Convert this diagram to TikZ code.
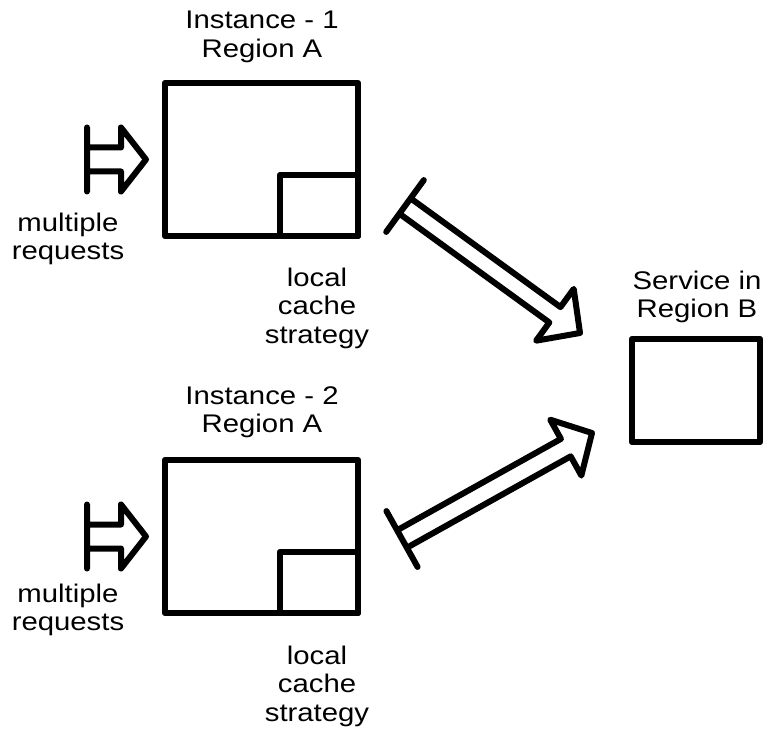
\documentclass[tikz,border=0pt]{standalone}
\usepackage{fontspec}
\setmainfont{Liberation Sans}[FakeStretch=1.15]
\usetikzlibrary{calc}

\begin{document}
\begin{tikzpicture}[
    x=1pt,
    y=-1pt,
    box/.style={draw, line width=6.5pt, line join=round, inner sep=0pt, outer sep=0pt},
    lbl/.style={align=center, inner sep=0pt, font=\fontsize{25.5pt}{28.5pt}\selectfont},
    arrow line/.style={line width=6pt, line join=round, line cap=round},
    pics/hollow arrow/.style n args={3}{code={
        \draw[arrow line] (0,-32) -- (0,32)
            (0,#2) -- (#1-#3,#2) -- (#1-#3,32) -- (#1,0) -- (#1-#3,-32) -- (#1-#3,-#2) -- (0,-#2);
    }}
]

\useasboundingbox (0,0) rectangle (769,738);

% 1. Instances in Region A (with local cache corner)
\node[box, minimum width=193pt, minimum height=153pt] (inst1) at (261.5,159.5) {};
\node[box, minimum width=78pt, minimum height=61pt, anchor=south east] (cache1) at (inst1.south east) {};
\node[box, minimum width=193pt, minimum height=153pt] (inst2) at (261.5,536.5) {};
\node[box, minimum width=78pt, minimum height=61pt, anchor=south east] (cache2) at (inst2.south east) {};

% 2. Remote service
\node[box, minimum width=128pt, minimum height=103pt] (svc) at (696,390.5) {};

% 3. Labels
\node[lbl] (inst1lbl) at (262,37) {Instance - 1\\Region A};
\node[lbl] (inst2lbl) at (262,412) {Instance - 2\\Region A};
\node[lbl] (svclbl) at (697,297) {Service in\\Region B};
\node[lbl] (req1) at (68,239) {multiple\\requests};
\node[lbl] (req2) at (68,610) {multiple\\requests};
\node[lbl] (strat1) at (317,308) {local\\cache\\strategy};
\node[lbl] (strat2) at (317,686) {local\\cache\\strategy};

% 4. Arrow end points
\coordinate (in1) at ([xshift=-78pt]inst1.west);
\coordinate (tip1) at ([xshift=-19pt]inst1.west);
\coordinate (in2) at ([xshift=-78pt]inst2.west);
\coordinate (tip2) at ([xshift=-19pt]inst2.west);
\coordinate (out1) at (405,206);
\coordinate (end1) at (580,333);
\coordinate (out2) at (402,539);
\coordinate (end2) at (592,433);

% 5. Hollow arrows (bar at start, open head at end)
\foreach \a/\b/\s/\h in {in1/tip1/12/25, in2/tip2/12/25, out1/end1/9.5/31, out2/end2/10/30} {
    \path let \p1=(\a), \p2=(\b) in
        \pgfextra{
            \pgfmathsetmacro{\arrang}{atan2(\y2-\y1,\x2-\x1)}
            \pgfmathsetmacro{\arrlen}{veclen(\x2-\x1,\y2-\y1)}
            \xdef\arrang{\arrang}\xdef\arrlen{\arrlen}
        };
    \pic[rotate=\arrang] at (\a) {hollow arrow={\arrlen}{\s}{\h}};
}

\end{tikzpicture}
\end{document}
